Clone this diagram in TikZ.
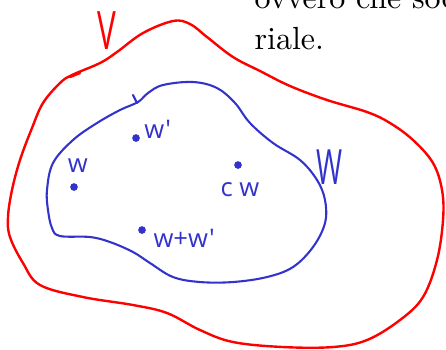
\documentclass[tikz,border=0pt]{standalone}
\usepackage{fontspec}
\newfontfamily\handfont{Open Sans}
\usetikzlibrary{positioning}
\definecolor{penV}{RGB}{255, 0, 0}
\definecolor{penW}{RGB}{51, 51, 204}

\begin{document}
\begin{tikzpicture}[x=0.3125pt, y=-0.3125pt, font=\normalsize,
  pt/.style={circle, fill=penW, inner sep=0pt, minimum size=2.4pt},
  lab/.style={penW, inner sep=1pt, font=\handfont\fontsize{8}{8}\selectfont}]
  \clip (0,0) rectangle (446,349);

  % Page text
  \node[anchor=base west, inner sep=0pt] (line1) at (254,8) {ovvero che soddisfa};
  \node[anchor=base west, inner sep=0pt] (line2) at (254,49) {riale.};

  % Space V
  \draw[penV, line width=0.75pt, line join=round]
    plot[smooth cycle, tension=0.6] coordinates {
      (72,75) (100,63) (117,52) (143,33) (173,21) (190,24) (207,37)
      (233,57) (260,71) (290,86) (327,100) (367,112) (390,123) (413,140)
      (433,163) (442,190) (443,220) (437,260) (423,297) (400,320)
      (367,340) (333,347) (283,347) (233,342) (200,330) (167,313)
      (133,305) (83,297) (40,285) (23,263) (10,237) (8,217) (12,190)
      (20,160) (32,128) (43,103) (60,83)};
  \draw[penV, line width=0.75pt, line cap=round] (70,77) -- (80,73);
  \node[penV, inner sep=0pt, xscale=0.82, yscale=1.38,
    font=\handfont\fontsize{12}{12}\selectfont] (nameV) at (107,31) {V};

  % Subspace W
  \draw[penW, line width=0.65pt, line join=round]
    plot[smooth cycle, tension=0.6] coordinates {
      (138,102) (120,110) (97,123) (73,140) (53,163) (47,190) (48,210)
      (52,228) (60,236) (90,237) (110,242) (133,252) (150,263) (173,277)
      (200,282) (233,282) (267,277) (293,267) (313,247) (325,223)
      (325,200) (317,180) (300,160) (273,143) (250,123) (235,103)
      (217,88) (193,82) (163,85) (148,93)};
  \draw[penW, line width=0.65pt, line cap=round] (133,95) -- (137,103);
  \node[penW, inner sep=0pt, xscale=0.8, yscale=1.38,
    font=\handfont\fontsize{11}{11}\selectfont] (nameW) at (330,167) {W};

  % Vectors
  \node[pt] (pw) at (74,187) {};
  \node[pt] (pwp) at (136,138) {};
  \node[pt] (pcw) at (238,165) {};
  \node[pt] (psum) at (142,230) {};

  \node[lab, above=2pt of pw, xshift=1.2pt] (lw) {w};
  \node[lab, right=0pt of pwp, yshift=2.8pt] (lwp) {w'};
  \node[lab, below=3pt of pcw, xshift=0.6pt] (lcw) {c w};
  \node[lab, right=1pt of psum, yshift=-2.5pt] (lsum) {w+w'};
\end{tikzpicture}
\end{document}
